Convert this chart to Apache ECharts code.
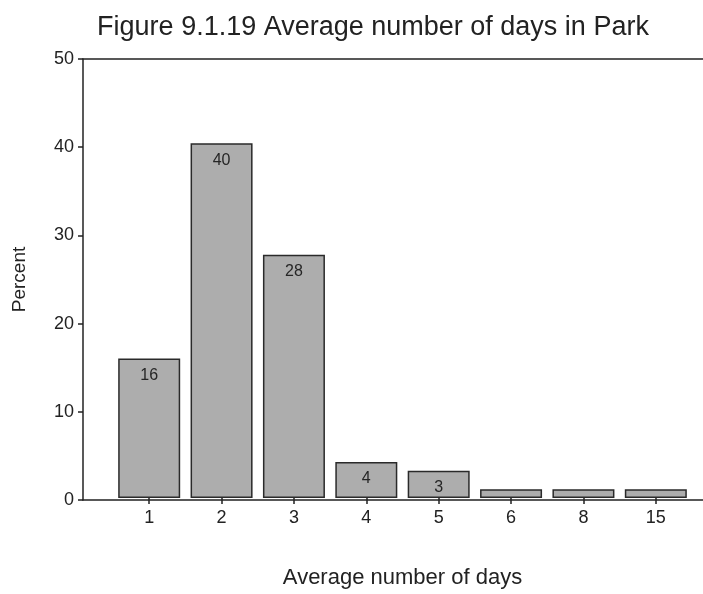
<!DOCTYPE html>
<html><head><meta charset="utf-8">
<script src="https://cdn.jsdelivr.net/npm/echarts@6/dist/echarts.min.js"></script>
<style>html,body{margin:0;padding:0;background:#fff;}#c{width:703px;height:594px;}</style>
</head><body><div id="c"></div>
<script>
const categories = ['1','2','3','4','5','6','8','15'];
const percentValues = [15.9, 40.4, 27.7, 4.1, 3.1, 1.0, 1.0, 1.0];
const barLabels = ['16','40','28','4','3','','',''];
const yTicks = [0, 10, 20, 30, 40, 50];

const font = 'Liberation Sans, Arial, sans-serif';
const txt = '#222';
const chart = echarts.init(document.getElementById('c'), null, {renderer:'canvas'});
chart.setOption({
  animation:false,
  backgroundColor:'#fff',
  title:{text:'Figure 9.1.19 Average number of days in Park', left:368, textAlign:'center', top:9,
    textStyle:{fontFamily:font, fontSize:27, fontWeight:'normal', color:txt}},
  grid:[
    {left:83, right:0, top:59, bottom:94},
    {left:113, width:579, top:59, bottom:94}
  ],
  xAxis:[
    {gridIndex:0, type:'value', min:0, max:1, position:'bottom',
      axisLine:{show:true, lineStyle:{color:'#222', width:1.5}}, axisTick:{show:false}, axisLabel:{show:false}, splitLine:{show:false}},
    {gridIndex:0, type:'value', min:0, max:1, position:'top',
      axisLine:{show:true, lineStyle:{color:'#222', width:1.5}}, axisTick:{show:false}, axisLabel:{show:false}, splitLine:{show:false}},
    {gridIndex:1, type:'category', data:categories, position:'bottom',
      axisLine:{show:false}, axisTick:{show:true, alignWithLabel:true, length:6, lineStyle:{color:'#222', width:1.5}},
      axisLabel:{fontFamily:font, fontSize:18, color:txt, margin:11},
      name:'Average number of days', nameLocation:'middle', nameGap:69,
      nameTextStyle:{fontFamily:font, fontSize:22, color:txt}}
  ],
  yAxis:[
    {gridIndex:0, type:'value', min:0, max:50, interval:10,
      axisLine:{show:true, lineStyle:{color:'#222', width:1.5}},
      axisTick:{show:true, length:5, lineStyle:{color:'#222', width:1.5}},
      axisLabel:{fontFamily:font, fontSize:18, color:txt, margin:9,
        formatter:function(v){return yTicks.indexOf(v)>=0?String(v):'';}},
      splitLine:{show:false},
      name:'Percent', nameLocation:'middle', nameGap:54, nameRotate:90,
      nameTextStyle:{fontFamily:font, fontSize:19, color:txt}},
    {gridIndex:1, type:'value', min:0, max:50, show:false}
  ],
  series:[{
    type:'bar', xAxisIndex:2, yAxisIndex:1,
    data:percentValues, barWidth:62,
    itemStyle:{color:'#adadad', borderColor:'#2a2a2a', borderWidth:1.5},
    label:{show:true, position:'insideTop', distance:9, fontFamily:font, fontSize:16, color:'#262626',
      formatter:function(p){return barLabels[p.dataIndex];}}
  }]
});
</script></body></html>
